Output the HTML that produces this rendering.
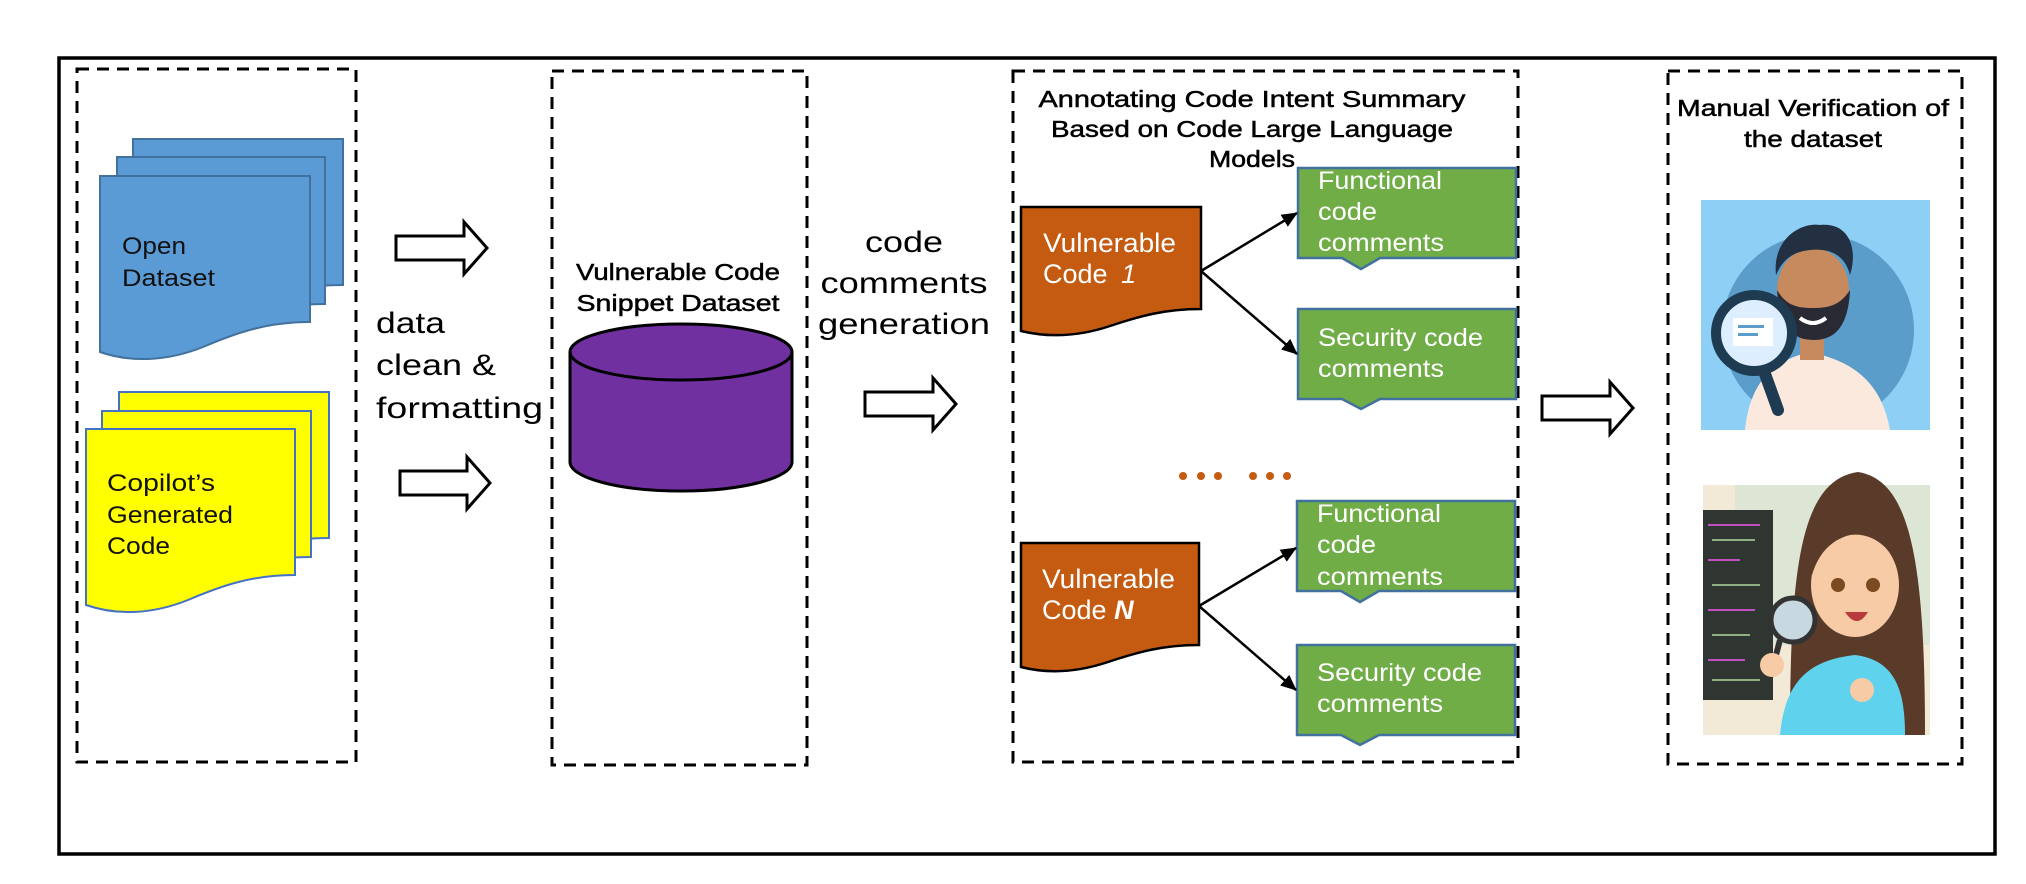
<!DOCTYPE html>
<html><head><meta charset="utf-8"><style>
html,body{margin:0;padding:0;background:#fff;}
svg{display:block;}
text{font-family:"Liberation Sans",sans-serif;}
</style></head><body>
<svg width="2026" height="884" viewBox="0 0 2026 884" xmlns="http://www.w3.org/2000/svg">
<defs>
<marker id="ah" markerWidth="16" markerHeight="14" refX="15" refY="7" orient="auto" markerUnits="userSpaceOnUse"><path d="M0,0 L16,7 L0,14 Z" fill="#000"/></marker>
</defs>
<rect x="0" y="0" width="2026" height="884" fill="#fff"/>
<rect x="59" y="58" width="1936" height="796" fill="none" stroke="#000" stroke-width="3.5"/>
<g fill="none" stroke="#000" stroke-width="3" stroke-dasharray="12,8">
<rect x="77" y="69" width="279" height="693"/>
<rect x="552" y="71" width="255" height="694"/>
<rect x="1013" y="71" width="505" height="691"/>
<rect x="1668" y="71" width="294" height="693"/>
</g>
<g fill="#5B9BD5" stroke="#41719C" stroke-width="2">
<path d="M133,139 H343 V285 C300,285 270,295 235,310 C200,324 165,326 133,316 Z"/>
<path d="M117,157 H325 V304 C283,304 253,314 218,329 C183,343 148,345 117,335 Z"/>
<path d="M100,176 H310 V322 C268,322 238,332 203,347 C168,361 132,363 100,352 Z"/>
</g>
<g font-size="24" fill="#111" lengthAdjust="spacingAndGlyphs">
<text x="122" y="254" textLength="64" lengthAdjust="spacingAndGlyphs">Open</text>
<text x="122" y="286" textLength="93" lengthAdjust="spacingAndGlyphs">Dataset</text>
</g>
<g fill="#FFFF00" stroke="#4472C4" stroke-width="2">
<path d="M119,392 H329 V538 C287,538 257,548 222,563 C187,577 152,579 119,569 Z"/>
<path d="M102,411 H311 V557 C269,557 239,567 204,582 C169,596 134,598 102,588 Z"/>
<path d="M86,429 H295 V575 C253,575 223,585 188,600 C153,614 118,616 86,605 Z"/>
</g>
<g font-size="24" fill="#111">
<text x="107" y="491" textLength="108" lengthAdjust="spacingAndGlyphs">Copilot’s</text>
<text x="107" y="523" textLength="126" lengthAdjust="spacingAndGlyphs">Generated</text>
<text x="107" y="554" textLength="63" lengthAdjust="spacingAndGlyphs">Code</text>
</g>
<g fill="#fff" stroke="#000" stroke-width="3">
<path d="M396,236 H464 V222 L487,248 L464,274 V260 H396 Z"/>
<path d="M400,471 H467 V457 L490,483 L467,509 V495 H400 Z"/>
<path d="M865,392 H933 V378 L956,404 L933,430 V416 H865 Z"/>
<path d="M1542,396 H1610 V382 L1633,408 L1610,434 V420 H1542 Z"/>
</g>
<g font-size="30" fill="#000">
<text x="376" y="333" textLength="69" lengthAdjust="spacingAndGlyphs">data</text>
<text x="376" y="375" textLength="120" lengthAdjust="spacingAndGlyphs">clean &amp;</text>
<text x="376" y="418" textLength="167" lengthAdjust="spacingAndGlyphs">formatting</text>
<text x="904" y="252" text-anchor="middle" textLength="78" lengthAdjust="spacingAndGlyphs">code</text>
<text x="904" y="293" text-anchor="middle" textLength="167" lengthAdjust="spacingAndGlyphs">comments</text>
<text x="904" y="334" text-anchor="middle" textLength="172" lengthAdjust="spacingAndGlyphs">generation</text>
</g>
<g font-size="23" fill="#000" stroke="#000" stroke-width="0.5" text-anchor="middle">
<text x="678" y="280" textLength="204" lengthAdjust="spacingAndGlyphs">Vulnerable Code</text>
<text x="678" y="311" textLength="203" lengthAdjust="spacingAndGlyphs">Snippet Dataset</text>
<text x="1252" y="107" textLength="427" lengthAdjust="spacingAndGlyphs">Annotating Code Intent Summary</text>
<text x="1252" y="137" textLength="402" lengthAdjust="spacingAndGlyphs">Based on Code Large Language</text>
<text x="1252" y="167" textLength="86" lengthAdjust="spacingAndGlyphs">Models</text>
<text x="1813" y="116" textLength="272" lengthAdjust="spacingAndGlyphs">Manual Verification of</text>
<text x="1813" y="147" textLength="138" lengthAdjust="spacingAndGlyphs">the dataset</text>
</g>
<path d="M570,352 V462 A111,29 0 0 0 792,462 V352" fill="#7030A0" stroke="#000" stroke-width="3"/>
<ellipse cx="681" cy="352" rx="111" ry="28" fill="#7030A0" stroke="#000" stroke-width="3"/>
<g fill="#C55A11" stroke="#000" stroke-width="2.5">
<path d="M1021,207 H1201 V309 C1165,309 1140,316 1110,326 C1080,336 1050,338 1021,331 Z"/>
<path d="M1021,543 H1199 V645 C1163,645 1138,652 1108,662 C1078,672 1048,674 1021,667 Z"/>
</g>
<g font-size="27" fill="#fff">
<text x="1043" y="252" textLength="133" lengthAdjust="spacingAndGlyphs">Vulnerable</text>
<text x="1043" y="283">Code <tspan font-style="italic" dx="6">1</tspan></text>
<text x="1042" y="588" textLength="133" lengthAdjust="spacingAndGlyphs">Vulnerable</text>
<text x="1042" y="619">Code <tspan font-style="italic" font-weight="bold">N</tspan></text>
</g>
<g fill="#70AD47" stroke="#41719C" stroke-width="2.5">
<path d="M1298,168 H1516 V258 H1380 L1361,269 L1342,258 H1298 Z"/>
<path d="M1298,309 H1516 V399 H1380 L1361,409 L1342,399 H1298 Z"/>
<path d="M1297,501 H1515 V591 H1379 L1360,602 L1341,591 H1297 Z"/>
<path d="M1297,645 H1515 V735 H1379 L1360,745 L1341,735 H1297 Z"/>
</g>
<g font-size="25" fill="#fff">
<text x="1318" y="189" textLength="124" lengthAdjust="spacingAndGlyphs">Functional</text>
<text x="1318" y="220" textLength="59" lengthAdjust="spacingAndGlyphs">code</text>
<text x="1318" y="251" textLength="126" lengthAdjust="spacingAndGlyphs">comments</text>
<text x="1318" y="346" textLength="165" lengthAdjust="spacingAndGlyphs">Security code</text>
<text x="1318" y="377" textLength="126" lengthAdjust="spacingAndGlyphs">comments</text>
<text x="1317" y="522" textLength="124" lengthAdjust="spacingAndGlyphs">Functional</text>
<text x="1317" y="553" textLength="59" lengthAdjust="spacingAndGlyphs">code</text>
<text x="1317" y="585" textLength="126" lengthAdjust="spacingAndGlyphs">comments</text>
<text x="1317" y="681" textLength="165" lengthAdjust="spacingAndGlyphs">Security code</text>
<text x="1317" y="712" textLength="126" lengthAdjust="spacingAndGlyphs">comments</text>
</g>
<g stroke="#000" stroke-width="2.5" marker-end="url(#ah)">
<line x1="1201" y1="271" x2="1297" y2="213"/>
<line x1="1201" y1="271" x2="1297" y2="354"/>
<line x1="1199" y1="606" x2="1296" y2="548"/>
<line x1="1199" y1="606" x2="1296" y2="690"/>
</g>
<g fill="#C55A11">
<circle cx="1183" cy="476" r="4"/><circle cx="1201" cy="476" r="4"/><circle cx="1218" cy="476" r="4"/>
<circle cx="1253" cy="476" r="4"/><circle cx="1270" cy="476" r="4"/><circle cx="1287" cy="476" r="4"/>
</g>
<!-- image 1 -->
<rect x="1701" y="200" width="229" height="230" fill="#8ECFF6"/>
<circle cx="1818" cy="330" r="96" fill="#5A9DCB"/>
<path d="M1745,430 C1750,380 1775,360 1810,352 C1845,360 1880,375 1890,430 Z" fill="#FAE9DC"/>
<rect x="1800" y="320" width="24" height="40" fill="#C68A5E"/>
<ellipse cx="1813" cy="290" rx="36" ry="42" fill="#C68A5E"/>
<path d="M1777,290 C1780,335 1800,340 1813,340 C1828,340 1848,335 1850,290 C1840,305 1830,308 1813,308 C1796,308 1786,305 1777,290 Z" fill="#2A2A34"/>
<path d="M1776,275 C1772,240 1800,222 1820,225 C1850,222 1858,250 1850,275 C1845,255 1830,248 1810,250 C1790,252 1782,262 1776,275 Z" fill="#223041"/>
<path d="M1800,318 Q1813,328 1826,318" stroke="#fff" stroke-width="4" fill="none"/>
<line x1="1760" y1="360" x2="1778" y2="410" stroke="#1E3B52" stroke-width="12" stroke-linecap="round"/>
<circle cx="1754" cy="333" r="38" fill="#DCEEFF" stroke="#1E3B52" stroke-width="10"/>
<rect x="1733" y="318" width="40" height="28" fill="#fff"/>
<rect x="1738" y="325" width="26" height="3" fill="#5A9DCB"/><rect x="1738" y="333" width="20" height="3" fill="#5A9DCB"/>
<!-- image 2 -->
<rect x="1703" y="485" width="227" height="250" fill="#F2EAD6"/>
<rect x="1735" y="485" width="195" height="160" fill="#DDE6D5"/>
<rect x="1703" y="510" width="70" height="190" fill="#2F3530"/>
<g stroke="#C050C0" stroke-width="2"><line x1="1708" y1="525" x2="1760" y2="525"/><line x1="1708" y1="560" x2="1740" y2="560"/><line x1="1708" y1="610" x2="1755" y2="610"/><line x1="1708" y1="660" x2="1745" y2="660"/></g>
<g stroke="#8FB080" stroke-width="2"><line x1="1712" y1="540" x2="1755" y2="540"/><line x1="1712" y1="585" x2="1760" y2="585"/><line x1="1712" y1="635" x2="1750" y2="635"/><line x1="1712" y1="680" x2="1760" y2="680"/></g>
<path d="M1790,735 C1790,570 1800,480 1858,472 C1910,480 1925,560 1925,735 Z" fill="#5A3A28"/>
<path d="M1780,735 C1785,680 1810,660 1855,655 C1895,660 1905,690 1905,735 Z" fill="#5FD3EE"/>
<ellipse cx="1855" cy="585" rx="44" ry="52" fill="#F6CBA6"/>
<path d="M1812,575 C1808,520 1830,500 1858,500 C1890,500 1905,530 1900,570 C1890,545 1870,532 1850,535 C1830,540 1818,555 1812,575 Z" fill="#5A3A28"/>
<circle cx="1838" cy="585" r="7" fill="#7A4A20"/><circle cx="1873" cy="585" r="7" fill="#7A4A20"/>
<path d="M1845,612 Q1857,630 1868,612 Z" fill="#B83A3A"/>
<circle cx="1793" cy="620" r="22" fill="#C8D8E0" stroke="#333" stroke-width="5"/>
<line x1="1780" y1="640" x2="1768" y2="685" stroke="#333" stroke-width="6"/>
<circle cx="1772" cy="665" r="12" fill="#F6CBA6"/>
<circle cx="1862" cy="690" r="12" fill="#F6CBA6"/>
</svg>
</body></html>
